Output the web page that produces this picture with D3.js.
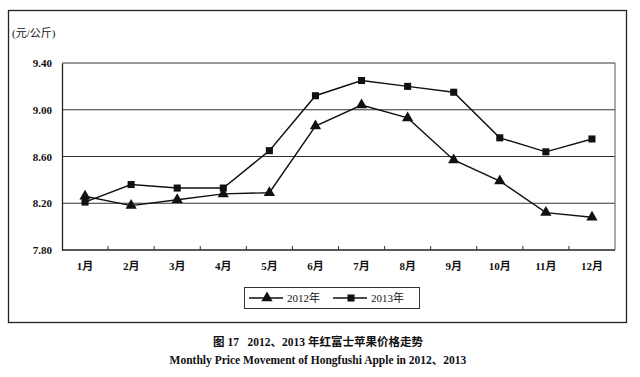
<!DOCTYPE html>
<html>
<head>
<meta charset="utf-8">
<script src="https://cdn.jsdelivr.net/npm/d3@7"></script>
<style>
  body { margin: 0; background: #fff; }
  text { font-family: "Liberation Serif", "Noto Sans CJK SC", serif; fill: #111; }
</style>
</head>
<body>
<div id="chart"></div>
<script>
// data
const months = ["1月", "2月", "3月", "4月", "5月", "6月", "7月", "8月", "9月", "10月", "11月", "12月"];
const price2012 = [8.26, 8.18, 8.23, 8.28, 8.29, 8.86, 9.04, 8.93, 8.57, 8.39, 8.12, 8.08];
const price2013 = [8.21, 8.36, 8.33, 8.33, 8.65, 9.12, 9.25, 9.20, 9.15, 8.76, 8.64, 8.75];
const yTicks = [7.80, 8.20, 8.60, 9.00, 9.40];
const seriesNames = ["2012年", "2013年"];

const width = 640, height = 377;
const margin = { left: 62, right: 25, top: 63, bottom: 127 };

let svg = d3.select("#chart").append("svg")
        .attr("width", width)
        .attr("height", height);

// outer frame
svg.append("rect")
        .attr("x", 8.5).attr("y", 10.5)
        .attr("width", 618).attr("height", 312)
        .attr("fill", "none").attr("stroke", "#222").attr("stroke-width", 1.3);

let x = d3.scaleBand().domain(months).range([margin.left, width - margin.right]);
let y = d3.scaleLinear().domain([7.80, 9.40]).range([height - margin.bottom, margin.top]);

// gridlines
svg.append("g").selectAll("line").data(yTicks.slice(1)).enter().append("line")
        .attr("x1", margin.left).attr("x2", width - margin.right)
        .attr("y1", d => y(d)).attr("y2", d => y(d))
        .attr("stroke", "#333").attr("stroke-width", 1);

// right border of plot
svg.append("line")
        .attr("x1", width - margin.right).attr("x2", width - margin.right)
        .attr("y1", y(9.40)).attr("y2", y(7.80))
        .attr("stroke", "#555").attr("stroke-width", 1);

// y axis
let yAxis = svg.append("g")
        .attr("transform", "translate(" + margin.left + ",0)")
        .call(d3.axisLeft(y).tickValues(yTicks).tickFormat(d3.format(".2f")).tickSize(0).tickPadding(10));
yAxis.select(".domain").attr("stroke", "#222").attr("stroke-width", 1.3);
yAxis.selectAll("text").attr("font-size", "11px").attr("font-weight", "bold")
        .style("font-family", "Liberation Serif, serif");

// x axis with ticks between bands pointing up
let xAxis = svg.append("g")
        .attr("transform", "translate(0," + y(7.80) + ")");
xAxis.append("line")
        .attr("x1", margin.left).attr("x2", width - margin.right)
        .attr("stroke", "#222").attr("stroke-width", 1.3);
xAxis.selectAll("line.tick").data(months.slice(1)).enter().append("line")
        .attr("class", "tick")
        .attr("x1", d => x(d)).attr("x2", d => x(d))
        .attr("y1", 0).attr("y2", -4)
        .attr("stroke", "#333");
xAxis.selectAll("text").data(months).enter().append("text")
        .attr("x", d => x(d) + x.bandwidth() / 2)
        .attr("y", 20)
        .attr("text-anchor", "middle")
        .attr("font-size", "11px")
        .attr("font-weight", "bold")
        .text(d => d);

// unit label
svg.append("text")
        .attr("x", 12).attr("y", 37)
        .attr("font-size", "11px")
        .text("(元/公斤)");

let line = d3.line()
        .x((d, i) => x(months[i]) + x.bandwidth() / 2)
        .y(d => y(d));

let triangle = d3.symbol().type(d3.symbolTriangle).size(55);
let square = d3.symbol().type(d3.symbolSquare).size(50);

function drawSeries(values, sym)
{
    let g = svg.append("g");
    g.append("path")
            .datum(values)
            .attr("d", line)
            .attr("fill", "none")
            .attr("stroke", "#111")
            .attr("stroke-width", 1.4);
    g.selectAll("path.pt").data(values).enter().append("path")
            .attr("class", "pt")
            .attr("d", sym)
            .attr("transform", (d, i) => "translate(" + (x(months[i]) + x.bandwidth() / 2) + "," + y(d) + ")")
            .attr("fill", "#111");
}

drawSeries(price2013, square);
drawSeries(price2012, triangle);

// legend
let legend = svg.append("g").attr("transform", "translate(244,287)");
legend.append("rect")
        .attr("x", 0.5).attr("y", 0.5)
        .attr("width", 175).attr("height", 21)
        .attr("fill", "none").attr("stroke", "#333").attr("stroke-width", 1);
let syms = [triangle, square];
seriesNames.forEach(function (name, i) {
    let ox = 5 + i * 84;
    legend.append("line")
            .attr("x1", ox).attr("x2", ox + 34)
            .attr("y1", 11).attr("y2", 11)
            .attr("stroke", "#111").attr("stroke-width", 1.3);
    legend.append("path")
            .attr("d", syms[i])
            .attr("transform", "translate(" + (ox + 18) + ",11)")
            .attr("fill", "#111");
    legend.append("text")
            .attr("x", ox + 38).attr("y", 15)
            .attr("font-size", "11px")
            .text(name);
});

// caption
svg.append("text")
        .attr("x", 318).attr("y", 346)
        .attr("text-anchor", "middle")
        .attr("font-size", "11.5px")
        .attr("font-weight", "bold")
        .attr("xml:space", "preserve")
        .text("图 17   2012、2013 年红富士苹果价格走势");
svg.append("text")
        .attr("x", 318).attr("y", 364)
        .attr("text-anchor", "middle")
        .attr("font-size", "11.5px")
        .attr("font-weight", "bold")
        .text("Monthly Price Movement of Hongfushi Apple in 2012、2013");
</script>
</body>
</html>
